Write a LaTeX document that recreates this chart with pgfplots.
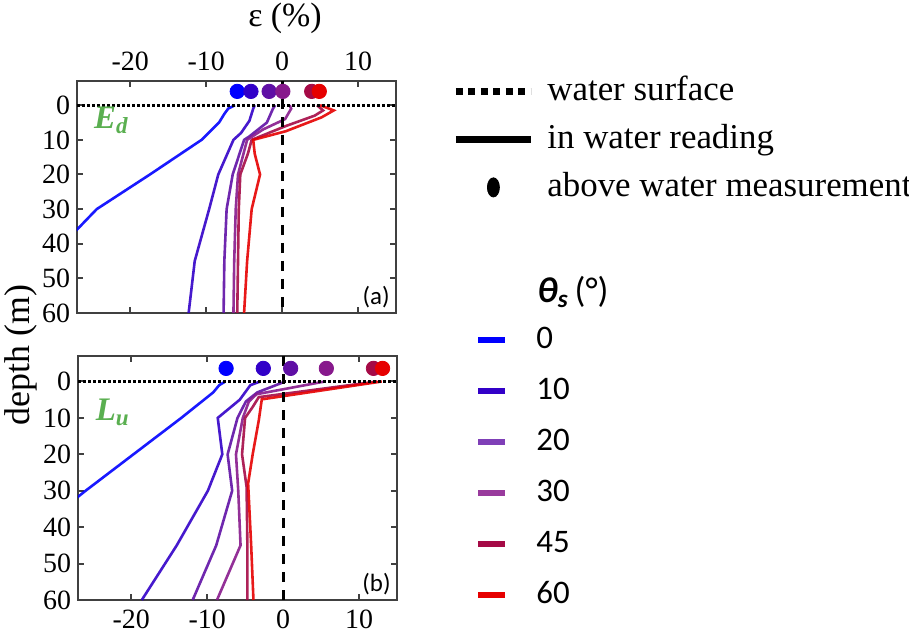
\documentclass[border=0pt]{standalone}
\usepackage{pgfplots}
\pgfplotsset{compat=1.18}
\usepackage{fontspec}
\setmainfont{Liberation Serif}
\setsansfont{Carlito}
\newcommand{\tl}[1]{\mbox{\fontsize{14}{16}\selectfont\rmfamily #1}}
\definecolor{c0}{RGB}{0,0,255}
\definecolor{c10}{RGB}{50,0,200}
\definecolor{c20}{RGB}{95,15,165}
\definecolor{c30}{RGB}{135,25,140}
\definecolor{c45}{RGB}{165,10,70}
\definecolor{c60}{RGB}{230,0,0}
\definecolor{lgreen}{RGB}{90,175,80}
\pgfplotsset{
  panel/.style={
    scale only axis, width=159.5bp,
    xmin=-27, xmax=15, ymin=-7, ymax=60, y dir=reverse,
    xtick={-20,-10,0,10}, xticklabels={\tl{-20},\tl{-10},\tl{0},\tl{10}},
    ytick={0,10,20,30,40,50,60}, yticklabels={\tl{0},\tl{10},\tl{20},\tl{30},\tl{40},\tl{50},\tl{60}},
    xticklabel shift=1.5bp,
    axis line style={line width=1.4bp, black!75},
    major tick length=3bp,
    tick style={line width=1bp, black!75},
    tick pos=both,
    clip=true,
  },
  ln/.style={line width=1.3bp, opacity=0.9},
  dot/.style={only marks, mark=*, mark size=3.6bp, mark options={draw=#1, fill=#1}},
  canvas/.style={at={(0,0)}, anchor=south west, scale only axis, width=454.5bp, height=321.5bp,
    xmin=0, xmax=909, ymin=0, ymax=643, hide axis, clip=false},
}
\begin{document}
\begin{tikzpicture}
\path[use as bounding box] (0,0) rectangle (454.5bp,321.5bp);
% ---------------- top panel (Ed)
\begin{axis}[panel, at={(38.5bp,165bp)}, anchor=south west, height=116bp, xticklabel pos=upper]
\addplot[ln, c0] coordinates {(-6.2,0) (-7.1,1) (-7.6,2.5) (-8.3,5) (-10.6,10) (-17.4,20) (-24.4,30) (-28.8,40)};
\addplot[ln, c10] coordinates {(-3.6,0) (-3.8,1) (-4.3,4.5) (-5.4,8) (-6.4,10) (-8.4,20) (-9.6,30) (-11.5,45) (-12.3,60)};
\addplot[ln, c20] coordinates {(-0.9,0) (-1.2,1) (-2.0,5) (-4.3,9) (-5.0,10) (-6.5,20) (-7.3,30) (-7.6,45) (-7.7,60)};
\addplot[ln, c30] coordinates {(1.0,0) (1.2,1) (0.4,4) (-2.5,7) (-4.6,10) (-5.8,20) (-6.1,30) (-6.3,45) (-6.4,60)};
\addplot[ln, c45] coordinates {(4.6,0) (5.4,1.5) (4.3,3) (0.5,6) (-4.0,10) (-4.5,14) (-5.5,20) (-5.7,30) (-5.8,45) (-5.9,60)};
\addplot[ln, c60] coordinates {(5.0,0) (6.8,1.5) (5.2,3.5) (0.5,7.5) (-3.8,10) (-3.6,14) (-2.9,20) (-4.0,30) (-4.6,45) (-5.0,60)};
\addplot[dot=c0] coordinates {(-5.9,-4)};
\addplot[dot=c10] coordinates {(-4.1,-4)};
\addplot[dot=c20] coordinates {(-1.7,-4)};
\addplot[dot=c30] coordinates {(0.1,-4)};
\addplot[dot=c45] coordinates {(3.9,-4)};
\addplot[dot=c60] coordinates {(4.9,-4)};
\addplot[black, line width=1.5bp, dash pattern=on 5bp off 4bp] coordinates {(0,-7) (0,60)};
\addplot[black, line width=1.5bp, dash pattern=on 1.5bp off 1bp] coordinates {(-27,0) (15,0)};
\node[anchor=base west, text=lgreen, inner sep=0pt, font=\fontsize{16.5}{18}\selectfont\bfseries\itshape] at (axis cs:-24.8,6.6) {E\textsubscript{d}};
\node[anchor=south east, inner sep=0pt, xshift=-3bp, yshift=2.5bp, font=\sffamily\fontsize{12.5}{14}\selectfont] at (axis cs:15,60) {(a)};
\end{axis}
% ---------------- bottom panel (Lu)
\begin{axis}[panel, at={(39bp,21.5bp)}, anchor=south west, height=122bp]
\addplot[ln, c0] coordinates {(-7.6,0) (-8.4,1) (-9.2,3) (-13.4,10) (-19.7,20) (-26,30) (-32,40)};
\addplot[ln, c10] coordinates {(-3.0,0) (-4.3,1) (-5.7,5) (-8.6,10) (-8.0,20) (-9.9,30) (-14,45) (-18.6,60)};
\addplot[ln, c20] coordinates {(0.3,0) (-3.4,3) (-4.9,5.5) (-6.0,10) (-7.3,20) (-6.7,30) (-8.8,45) (-11.9,60)};
\addplot[ln, c30] coordinates {(5.5,0) (-3.5,3.5) (-4.5,5.5) (-5.3,10) (-6.2,20) (-5.9,30) (-5.6,45) (-8.7,60)};
\addplot[ln, c45] coordinates {(12.4,0) (-3.2,4.3) (-4.0,7) (-5.0,10) (-5.4,20) (-4.8,29) (-4.7,45) (-4.7,60)};
\addplot[ln, c60] coordinates {(13.0,0) (-2.8,4.9) (-3.2,10.7) (-4.0,20) (-4.6,28) (-4.2,45) (-3.9,60)};
\addplot[dot=c0] coordinates {(-7.5,-3.6)};
\addplot[dot=c10] coordinates {(-2.6,-3.6)};
\addplot[dot=c20] coordinates {(1.0,-3.6)};
\addplot[dot=c30] coordinates {(5.7,-3.6)};
\addplot[dot=c45] coordinates {(11.9,-3.6)};
\addplot[dot=c60] coordinates {(13.1,-3.6)};
\addplot[black, line width=1.5bp, dash pattern=on 5bp off 4bp] coordinates {(0,-7) (0,60)};
\addplot[black, line width=1.5bp, dash pattern=on 1.5bp off 1bp] coordinates {(-27,0) (15,0)};
\node[anchor=base west, text=lgreen, inner sep=0pt, font=\fontsize{16.5}{18}\selectfont\bfseries\itshape] at (axis cs:-24.7,10.7) {L\textsubscript{u}};
\node[anchor=south east, inner sep=0pt, xshift=-3bp, yshift=2.5bp, font=\sffamily\fontsize{12.5}{14}\selectfont] at (axis cs:15,60) {(b)};
\end{axis}
% ---------------- canvas: labels + legend 1
\begin{axis}[canvas,
  legend style={at={(axis description cs:0.49725,0.88491)}, anchor=north west, draw=none, fill=none,
    inner sep=0pt, row sep=7bp, font=\fontsize{17.5}{20}\selectfont,
    nodes={inner sep=0pt, text height=13bp, text depth=4bp},
    /tikz/every odd column/.append style={column sep=6.5bp}},
  legend cell align=left,
  legend image code/.code={\draw[#1] (0bp,0bp) -- (37.5bp,0bp);}]
\addlegendimage{black, line width=3.3bp, dash pattern=on 3.5bp off 2.75bp}
\addlegendentry{water surface}
\addlegendimage{black, line width=3.5bp}
\addlegendentry{in water reading}
\addlegendimage{legend image code/.code={\fill[black] (18.75bp,0bp) ellipse [x radius=3bp, y radius=4.8bp];}}
\addlegendentry{above water measurement}
\node[font=\fontsize{17}{19}\selectfont] at (axis cs:285,625) {ε (\%)};
\node[rotate=90, font=\fontsize{18}{20}\selectfont] at (axis cs:21,288) {depth (m)};
\node[font=\sffamily\fontsize{18}{20}\selectfont] at (axis cs:573,351) {\textbf{\textit{θ\textsubscript{s}}}\,(°)};
\end{axis}
% ---------------- canvas: legend 2
\begin{axis}[canvas,
  legend style={at={(axis description cs:0.52255,0.49611)}, anchor=north west, draw=none, fill=none,
    inner sep=0pt, row sep=10bp, font=\sffamily\fontsize{16.5}{19}\selectfont,
    nodes={inner sep=0pt, text height=12bp, text depth=3.5bp},
    /tikz/every odd column/.append style={column sep=14bp}},
  legend cell align=left,
  legend image code/.code={\draw[#1] (0bp,0bp) -- (13.5bp,0bp);}]
\addlegendimage{c0, line width=3bp}
\addlegendentry{0}
\addlegendimage{c10, line width=3bp}
\addlegendentry{10}
\addlegendimage{c20!80!white, line width=3bp}
\addlegendentry{20}
\addlegendimage{c30!85!white, line width=3bp}
\addlegendentry{30}
\addlegendimage{c45, line width=3bp}
\addlegendentry{45}
\addlegendimage{c60, line width=3bp}
\addlegendentry{60}
\end{axis}
\end{tikzpicture}
\end{document}
